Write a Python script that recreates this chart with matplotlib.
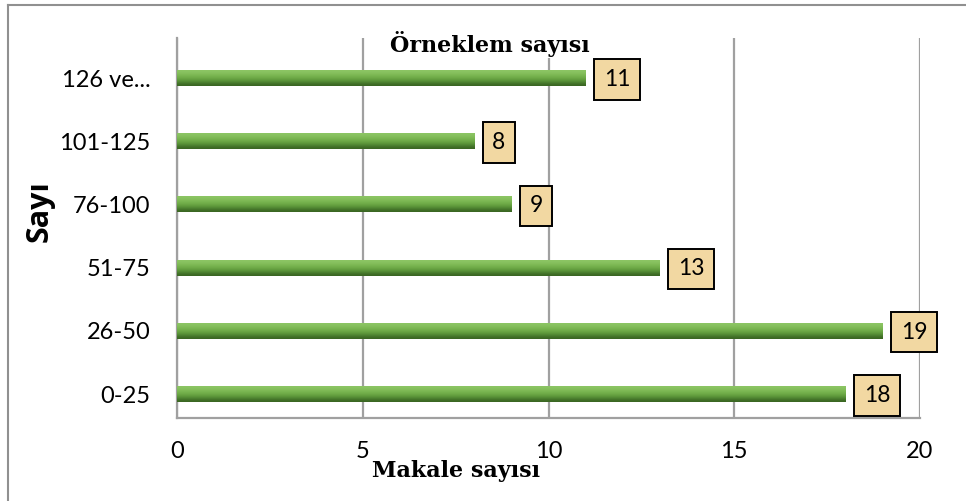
import matplotlib.pyplot as plt
import numpy as np
from matplotlib.lines import Line2D
from matplotlib.colors import LinearSegmentedColormap

# Data
categories = ["0-25", "26-50", "51-75", "76-100", "101-125", "126 ve..."]
counts = [18, 19, 13, 9, 8, 11]

fig = plt.figure(figsize=(9.66, 5.01), dpi=100)
ax = fig.add_axes([177 / 966, 1 - 417.7 / 501, (920 - 177) / 966, (417.7 - 38) / 501])

ypos = np.arange(len(categories))
bar_h = 0.25

# base bars, then a vertical gradient on top of each one (light top, dark bottom)
bars = ax.barh(ypos, counts, height=bar_h, color="#6aa744", zorder=3)
grad = np.array([[0.0], [0.2], [0.4], [0.6], [0.8], [1.0]])
cmap = LinearSegmentedColormap.from_list("g", ["#8cc564", "#7ab650", "#5f9b3c", "#3a6623"])
for y, v in zip(ypos, counts):
    ax.imshow(grad, cmap=cmap, aspect="auto", interpolation="bicubic",
              extent=(0, v, y - bar_h / 2, y + bar_h / 2), zorder=4)

# data labels in boxes
for y, v in zip(ypos, counts):
    ax.annotate(str(v), xy=(v, y), xytext=(13, -1), textcoords="offset points",
                ha="left", va="center", fontsize=16.5, family="Lato", zorder=6,
                bbox=dict(boxstyle="square,pad=0.42", fc="#f2d8a2", ec="black", lw=1.4),
                annotation_clip=False)

ax.set_xlim(0, 20)
ax.set_ylim(-0.375, 5.633)
ax.set_xticks([0, 5, 10, 15, 20])
ax.set_yticks(ypos)
ax.set_yticklabels(categories)
ax.tick_params(axis="both", length=0, labelsize=17, pad=17)
for lab in ax.get_xticklabels() + ax.get_yticklabels():
    lab.set_family("Lato")
ax.tick_params(axis="y", pad=19)
ax.grid(axis="x", color="#a0a0a0", lw=1.6, zorder=1)
ax.set_axisbelow(True)
for s in ["top", "right"]:
    ax.spines[s].set_visible(False)
for s in ["left", "bottom"]:
    ax.spines[s].set_color("#a0a0a0")
    ax.spines[s].set_linewidth(1.6)

# titles
fig.text(490 / 966, 1 - 44 / 501, "Örneklem sayısı", ha="center", va="center",
         fontsize=16, fontweight="bold", family="DejaVu Serif",
         bbox=dict(fc="white", ec="none", pad=1), zorder=10)
fig.text(456 / 966, 1 - 471 / 501, "Makale sayısı", ha="center", va="center",
         fontsize=16, fontweight="bold", family="DejaVu Serif")
fig.text(40 / 966, 1 - 211 / 501, "Sayı", ha="center", va="center", rotation=90,
         fontsize=22, fontweight="bold", family="Open Sans")

# outer border (only top and left edges visible)
fig.add_artist(Line2D([8 / 966, 1], [1 - 5 / 501, 1 - 5 / 501], color="#909090", lw=1.5))
fig.add_artist(Line2D([8 / 966, 8 / 966], [0, 1 - 5 / 501], color="#909090", lw=1.5))

fig.savefig("out.png", dpi=100)
